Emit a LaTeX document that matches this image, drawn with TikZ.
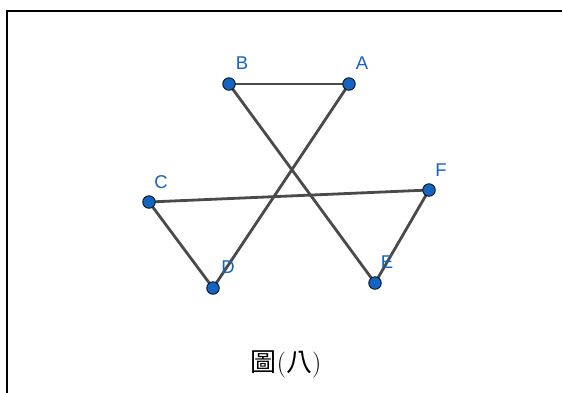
\documentclass[tikz,border=0pt]{standalone}
\usepackage{fontspec}
\setsansfont{Liberation Sans}
\newfontfamily\cjk{Noto Sans CJK TC}
\definecolor{ggblue}{HTML}{1565C0}
\definecolor{ggline}{HTML}{4A4A4A}
\begin{document}
\begin{tikzpicture}[x=1pt,y=-1pt,
  pt/.style={circle,draw=black!80!ggblue,line width=0.9pt,fill=ggblue,inner sep=0pt,minimum size=12.5pt},
  seg/.style={draw=ggline,line width=2.8pt},
  lbl/.style={text=ggblue,font=\sffamily\fontsize{18.5}{18.5}\selectfont,inner sep=0pt}]
\useasboundingbox (0,0) rectangle (562,392);
\clip (0,0) rectangle (562,392);
\fill[white] (0,0) rectangle (562,392);
\draw[line width=2pt] (7,11) rectangle (580,410);
\coordinate (B) at (229,84);
\coordinate (A) at (349,84);
\coordinate (C) at (149,202);
\coordinate (F) at (429,190);
\coordinate (D) at (213,288);
\coordinate (E) at (375,283);
\draw[seg] (B) -- (A);
\draw[seg] (A) -- (D);
\draw[seg] (B) -- (E);
\draw[seg] (C) -- (F);
\draw[seg] (C) -- (D);
\draw[seg] (F) -- (E);
\node[pt] (nB) at (B) {};
\node[pt] (nA) at (A) {};
\node[pt] (nC) at (C) {};
\node[pt] (nF) at (F) {};
\node[pt] (nD) at (D) {};
\node[pt] (nE) at (E) {};
\node[lbl] (lB) at (242,63) {B};
\node[lbl] (lA) at (362,63) {A};
\node[lbl] (lC) at (161,182) {C};
\node[lbl] (lF) at (441,170) {F};
\node[lbl] (lD) at (228,267) {D};
\node[lbl] (lE) at (387,262) {E};
\node[font=\fontsize{26}{26}\selectfont,inner sep=0pt] (title) at (286,364) {{\cjk 圖}({\cjk 八})};
\end{tikzpicture}
\end{document}
